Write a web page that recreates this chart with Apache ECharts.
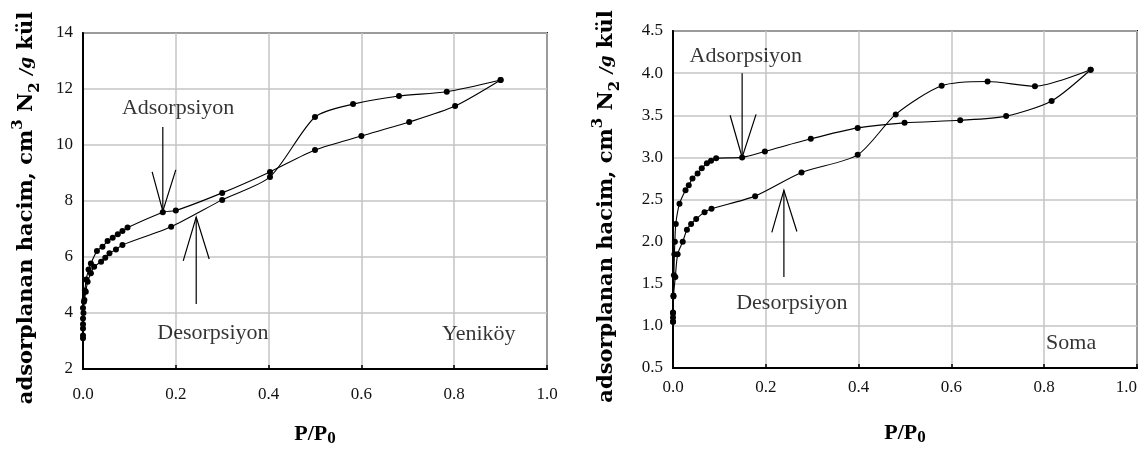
<!DOCTYPE html>
<html>
<head>
<meta charset="utf-8">
<script src="https://cdn.jsdelivr.net/npm/echarts@6/dist/echarts.min.js"></script>
<style>
  html, body { margin: 0; padding: 0; background: #fff; }
  #chart { width: 1145px; height: 450px; }
</style>
</head>
<body>
<div id="chart"></div>
<script>
// N2 adsorption / desorption isotherms, [P/P0, volume]
const yenikoyAds = [
  [0.0, 3.2], [0.0, 3.6], [0.001, 4.0], [0.002, 4.4], [0.004, 4.8], [0.007, 5.2],
  [0.012, 5.55], [0.017, 5.77], [0.03, 6.21], [0.042, 6.37], [0.053, 6.57],
  [0.064, 6.69], [0.075, 6.81], [0.085, 6.93], [0.096, 7.05], [0.172, 7.6],
  [0.2, 7.66], [0.3, 8.29], [0.403, 9.04], [0.5, 9.82], [0.6, 10.32],
  [0.703, 10.82], [0.802, 11.39], [0.9, 12.32]
];
const yenikoyDes = [
  [0.0, 3.1], [0.0, 3.45], [0.0, 3.8], [0.0, 4.18], [0.003, 4.46], [0.006, 4.76],
  [0.01, 5.12], [0.017, 5.42], [0.024, 5.65], [0.039, 5.83], [0.048, 5.97],
  [0.057, 6.13], [0.071, 6.27], [0.085, 6.43], [0.19, 7.08], [0.3, 8.04],
  [0.403, 8.86], [0.5, 11.0], [0.582, 11.46], [0.681, 11.75], [0.784, 11.9],
  [0.9, 12.32]
];
const somaAds = [
  [0.0, 1.05], [0.0, 1.15], [0.001, 1.35], [0.002, 1.6], [0.003, 1.85], [0.004, 2.0],
  [0.006, 2.21], [0.014, 2.45], [0.027, 2.61], [0.034, 2.67], [0.042, 2.75],
  [0.053, 2.81], [0.062, 2.87], [0.073, 2.93], [0.082, 2.96], [0.093, 2.99],
  [0.149, 3.0], [0.198, 3.07], [0.297, 3.22], [0.398, 3.35], [0.499, 3.41],
  [0.619, 3.44], [0.718, 3.49], [0.816, 3.67], [0.9, 4.04]
];
const somaDes = [
  [0.0, 1.05], [0.0, 1.1], [0.0, 1.16], [0.001, 1.36], [0.005, 1.58], [0.01, 1.85],
  [0.021, 2.0], [0.03, 2.14], [0.039, 2.21], [0.05, 2.27], [0.068, 2.35],
  [0.083, 2.39], [0.177, 2.54], [0.277, 2.82], [0.398, 3.03], [0.48, 3.51],
  [0.579, 3.85], [0.678, 3.9], [0.78, 3.845], [0.9, 4.04]
];

// tick labels
const xTickLabels = ['0.0', '0.2', '0.4', '0.6', '0.8', '1.0'];
const yenikoyTickLabels = ['2', '4', '6', '8', '10', '12', '14'];
const somaTickLabels = ['0.5', '1.0', '1.5', '2.0', '2.5', '3.0', '3.5', '4.0', '4.5'];

// annotation arrows (data units): shaft and arrow head
const yenikoyArrows = [
  [[0.172, 10.64], [0.172, 7.64]],
  [[0.149, 9.04], [0.172, 7.64], [0.2, 9.11]],
  [[0.244, 4.32], [0.244, 7.43]],
  [[0.216, 5.86], [0.244, 7.43], [0.272, 5.93]]
];
const somaArrows = [
  [[0.149, 4.0], [0.149, 3.0]],
  [[0.123, 3.5], [0.149, 3.0], [0.179, 3.51]],
  [[0.239, 1.58], [0.239, 2.61]],
  [[0.213, 2.11], [0.239, 2.61], [0.267, 2.12]]
];
const yenikoyNotes = [
  { name: 'Adsorpsiyon', value: [0.205, 11.3] },
  { name: 'Desorpsiyon', value: [0.28, 3.29] },
  { name: 'Yeniköy', value: [0.853, 3.25] }
];
const somaNotes = [
  { name: 'Adsorpsiyon', value: [0.157, 4.2] },
  { name: 'Desorpsiyon', value: [0.256, 1.27] },
  { name: 'Soma', value: [0.858, 0.80] }
];

const SERIF = 'Liberation Serif, Times New Roman, serif';
const WIDE_SERIF = 'DejaVu Serif, Liberation Serif, serif';

const yName = 'adsorplanan hacim, cm{sup|3} N{sub|2} {it|/g} kül';
const yNameStyle = {
  fontFamily: WIDE_SERIF, fontWeight: 'bold', fontSize: 21, color: '#000', lineHeight: 32,
  padding: [0, 14, 0, 0],
  rich: {
    sup: { fontFamily: WIDE_SERIF, fontWeight: 'bold', fontSize: 15, color: '#000', verticalAlign: 'top', lineHeight: 32 },
    sub: { fontFamily: WIDE_SERIF, fontWeight: 'bold', fontSize: 15, color: '#000', verticalAlign: 'bottom', lineHeight: 23 },
    it: { fontFamily: WIDE_SERIF, fontWeight: 'bold', fontStyle: 'italic', fontSize: 17, color: '#000' }
  }
};
const xNameStyle = {
  fontFamily: SERIF, fontWeight: 'bold', fontSize: 22, color: '#000', lineHeight: 26,
  rich: {
    sub: { fontFamily: SERIF, fontWeight: 'bold', fontSize: 17, color: '#000', verticalAlign: 'bottom', lineHeight: 20 }
  }
};

function xAxis(idx, margin, alignMax) {
  return {
    type: 'value', gridIndex: idx, min: 0, max: 1, interval: 0.2,
    name: 'P/P{sub|0}', nameLocation: 'middle', nameGap: 52, nameTextStyle: xNameStyle,
    axisLine: { show: true, lineStyle: { color: '#000', width: 2 } },
    axisTick: { show: true, inside: true, length: 4, lineStyle: { color: '#000', width: 1.5 } },
    axisLabel: {
      margin: margin, fontFamily: SERIF, fontSize: 17, color: '#111',
      alignMaxLabel: alignMax,
      formatter: v => xTickLabels[Math.round(v / 0.2)]
    },
    splitLine: { show: true, lineStyle: { color: '#c4c4c4', width: 1.5 } }
  };
}
function yAxis(idx, min, max, step, labels, gap) {
  return {
    type: 'value', gridIndex: idx, min: min, max: max, interval: step,
    name: yName, nameLocation: 'middle', nameRotate: 90, nameGap: gap, nameTextStyle: yNameStyle,
    axisLine: { show: true, lineStyle: { color: '#000', width: 2 } },
    axisTick: { show: false },
    axisLabel: {
      margin: 10, fontFamily: SERIF, fontSize: 17, color: '#111',
      formatter: v => labels[Math.round((v - min) / step)]
    },
    splitLine: { show: true, lineStyle: { color: '#c4c4c4', width: 1.5 } }
  };
}
function curve(idx, data) {
  return {
    type: 'line', xAxisIndex: idx, yAxisIndex: idx, data: data,
    smooth: 0.25, symbol: 'circle', symbolSize: 6, showAllSymbol: true,
    itemStyle: { color: '#000' }, lineStyle: { color: '#000', width: 1.1 },
    z: 3
  };
}
function arrows(idx, list) {
  return {
    type: 'lines', coordinateSystem: 'cartesian2d', xAxisIndex: idx, yAxisIndex: idx,
    polyline: true, silent: true,
    lineStyle: { color: '#000', width: 1.2, opacity: 1 },
    data: list.map(c => ({ coords: c })),
    z: 4
  };
}
function notes(idx, list) {
  return {
    type: 'scatter', xAxisIndex: idx, yAxisIndex: idx, data: list,
    symbolSize: 0, silent: true,
    label: {
      show: true, position: 'inside', formatter: p => p.name,
      fontFamily: SERIF, fontSize: 22, color: '#000'
    },
    z: 5
  };
}

const chart = echarts.init(document.getElementById('chart'), null, { renderer: 'canvas' });
chart.setOption({
  animation: false,
  backgroundColor: '#fff',
  grid: [
    { left: 83, top: 33, width: 464, height: 336, containLabel: false, outerBoundsMode: 'none',
      show: true, borderColor: '#222', borderWidth: 2, backgroundColor: 'transparent' },
    { left: 673, top: 31, width: 464, height: 337, containLabel: false, outerBoundsMode: 'none',
      show: true, borderColor: '#222', borderWidth: 2, backgroundColor: 'transparent' }
  ],
  xAxis: [xAxis(0, 17, null), xAxis(1, 11, 'right')],
  yAxis: [
    yAxis(0, 2, 14, 2, yenikoyTickLabels, 40),
    yAxis(1, 0.5, 4.5, 0.5, somaTickLabels, 50)
  ],
  series: [
    curve(0, yenikoyAds), curve(0, yenikoyDes),
    curve(1, somaAds), curve(1, somaDes),
    arrows(0, yenikoyArrows), arrows(1, somaArrows),
    notes(0, yenikoyNotes), notes(1, somaNotes)
  ]
});
</script>
</body>
</html>
